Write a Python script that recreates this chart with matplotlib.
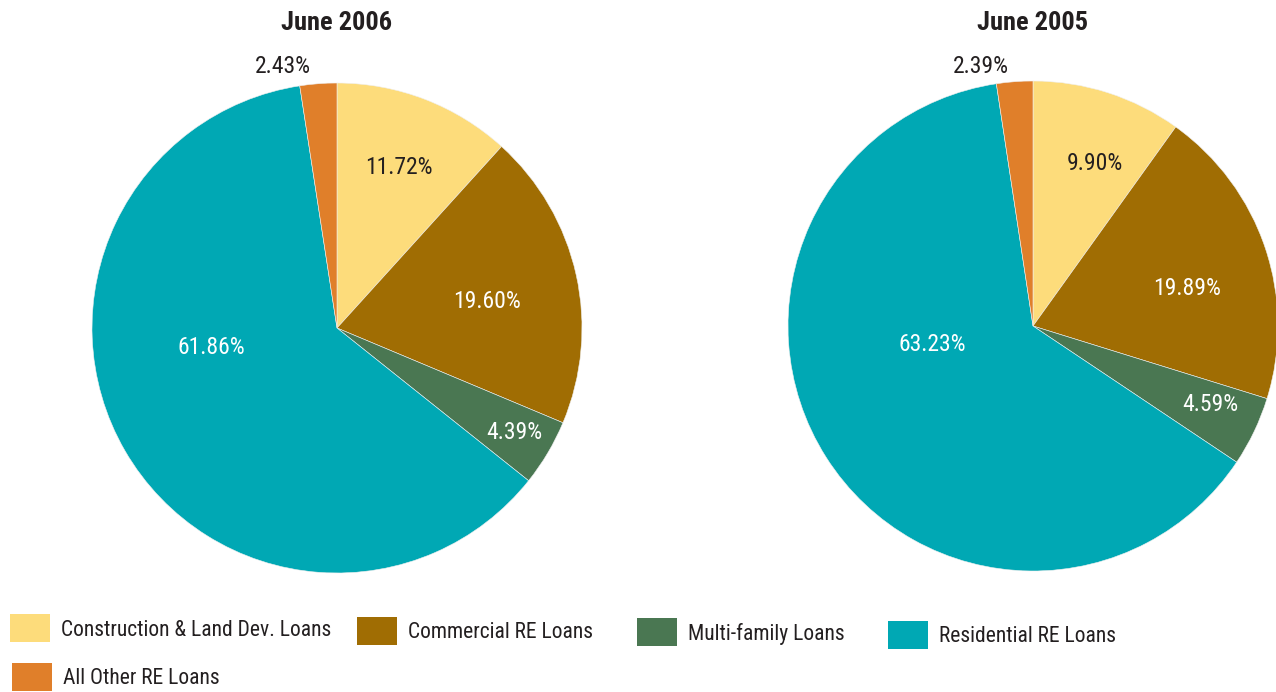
import numpy as np
import matplotlib.pyplot as plt
from matplotlib.patches import Rectangle

plt.rcParams['font.family'] = ['Roboto Condensed', 'Archivo Narrow', 'Liberation Sans', 'DejaVu Sans']

categories = ['Construction & Land Dev. Loans', 'Commercial RE Loans', 'Multi-family Loans',
              'Residential RE Loans', 'All Other RE Loans']
colors = ['#FDDC7B', '#A06D03', '#4A7752', '#00A8B4', '#E07F2A']
titles = ['June 2006', 'June 2005']
share_2006 = [11.72, 19.60, 4.39, 61.86, 2.43]
share_2005 = [9.90, 19.89, 4.59, 63.23, 2.39]

# label placement: radius as fraction of pie radius, angle shift from wedge middle (deg)
lab_r = [[0.70, 0.62, 0.84, 0.52, 1.09], [0.71, 0.645, 0.79, 0.42, 1.08]]
lab_shift = [[0, 2.5, 0, 21.5, -7.3], [2.9, 5, -1.6, 21.8, -7.1]]
lab_color = ['#231F20', 'white', 'white', 'white', '#231F20']

W, H = 1276, 692
fig = plt.figure(figsize=(W / 100, H / 100), dpi=100)

R = 245
centers = [(337, 328), (1033, 326)]
for k, vals in enumerate([share_2006, share_2005]):
    cx, cy = centers[k]
    ax = fig.add_axes([(cx - R) / W, (H - cy - R) / H, 2 * R / W, 2 * R / H])
    ax.pie(vals, colors=colors, startangle=90, counterclock=False, radius=1,
           wedgeprops=dict(linewidth=0.4, edgecolor='#f0f0f0'))
    ax.set_xlim(-1, 1)
    ax.set_ylim(-1, 1)
    ax.set_aspect('equal')
    ax.axis('off')
    cum = np.cumsum([0] + vals[:-1])
    for i, v in enumerate(vals):
        theta = np.deg2rad((cum[i] + v / 2) / sum(vals) * 360 + lab_shift[k][i])
        r = lab_r[k][i]
        ax.text(r * np.sin(theta), r * np.cos(theta), f'{v:.2f}%', ha='center', va='center',
                fontsize=17, color=lab_color[i], clip_on=False)
    fig.text(cx / W, 1 - 23 / H, titles[k], ha='center', va='center', fontsize=19,
             fontweight='bold', color='#231F20')

# legend drawn by hand, entries sit slightly staggered
leg_x = [10, 357, 637, 888, 12]
leg_y = [628, 631, 632, 635, 677]
for i, name in enumerate(categories):
    x0, y0 = leg_x[i], leg_y[i]
    fig.patches.append(Rectangle((x0 / W, (H - y0 - 14) / H), 40 / W, 28 / H,
                                 transform=fig.transFigure, facecolor=colors[i], edgecolor='none'))
    fig.text((x0 + 51) / W, (H - y0 - 2) / H, name, ha='left', va='center', fontsize=15.5,
             color='#231F20')

fig.savefig('out.png', dpi=100)
